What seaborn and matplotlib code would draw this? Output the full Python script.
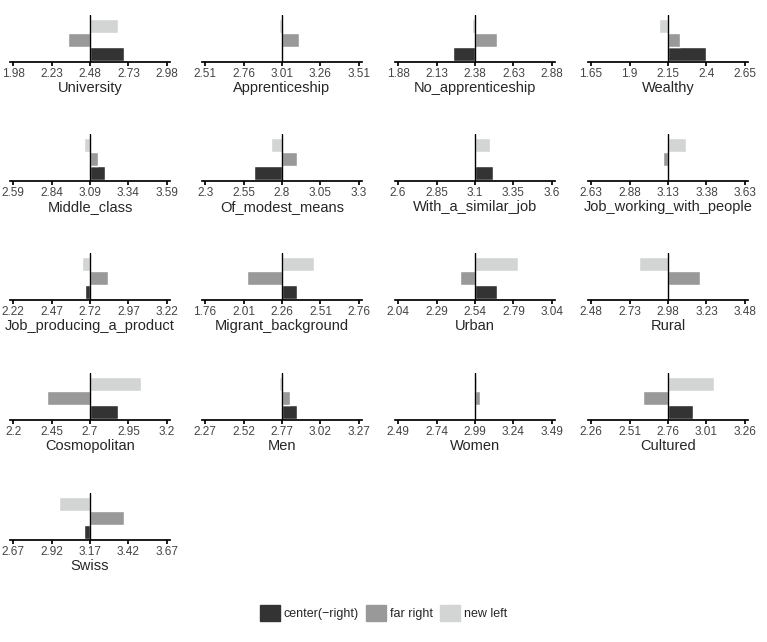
import matplotlib.pyplot as plt
import matplotlib.patches as mpatches
import seaborn as sns

sns.set_theme(style="white")
plt.rcParams['font.family'] = ['Liberation Sans', 'DejaVu Sans']

panels = ["University", "Apprenticeship", "No_apprenticeship", "Wealthy",
          "Middle_class", "Of_modest_means", "With_a_similar_job", "Job_working_with_people",
          "Job_producing_a_product", "Migrant_background", "Urban", "Rural",
          "Cosmopolitan", "Men", "Women", "Cultured", "Swiss"]
centers = [2.48, 3.01, 2.38, 2.15, 3.09, 2.80, 3.10, 3.13, 2.72, 2.26, 2.54, 2.98,
           2.70, 2.77, 2.99, 2.76, 3.17]
center_right = [2.70, 3.01, 2.24, 2.40, 3.19, 2.62, 3.22, 3.13, 2.69, 2.36, 2.68, 2.98,
                2.88, 2.87, 2.99, 2.92, 3.13]
far_right = [2.34, 3.12, 2.52, 2.23, 3.14, 2.90, 3.10, 3.10, 2.84, 2.03, 2.44, 3.19,
             2.42, 2.82, 3.02, 2.60, 3.39]
new_left = [2.66, 2.99, 2.36, 2.09, 3.05, 2.73, 3.20, 3.25, 2.67, 2.47, 2.82, 2.79,
            3.03, 2.75, 3.00, 3.06, 2.97]
groups = ["center(−right)", "far right", "new left"]
colors = ["#333333", "#999999", "#d3d5d5"]

fig = plt.figure(figsize=(7.67, 6.42), dpi=100)
W, H = 767, 642
lefts = [10, 202, 395, 588]
bottoms = [62, 181, 300, 420, 540]
aw, ah = 160, 47

for i, name in enumerate(panels):
    r, c = divmod(i, 4)
    ax = fig.add_axes([lefts[c] / W, 1 - bottoms[r] / H, aw / W, ah / H])
    cen = centers[i]
    vals = [center_right[i], far_right[i], new_left[i]]
    for k, v in enumerate(vals):
        ax.barh(k, v - cen, left=cen, height=1.0, color=colors[k])
    ax.axvline(cen, color="black", lw=1)
    ax.set_ylim(-0.6, 2.75)
    ax.set_xlim(cen - 0.52, cen + 0.52)
    ticks = [cen - 0.5, cen - 0.25, cen, cen + 0.25, cen + 0.5]
    ax.set_xticks(ticks)
    ax.set_xticklabels([f"{t:.2f}".rstrip("0").rstrip(".") for t in ticks], fontsize=8.5, color="#444444")
    ax.set_yticks([])
    for s in ["top", "right", "left"]:
        ax.spines[s].set_visible(False)
    ax.spines["bottom"].set_color("black")
    ax.tick_params(axis="x", length=3, pad=1, bottom=True, color="black")
    ax.set_xlabel(name, fontsize=10.5, labelpad=1)

handles = [mpatches.Patch(color=col, label=g) for col, g in zip(colors, groups)]
fig.legend(handles=handles, loc="center", bbox_to_anchor=(0.5, 1 - 613 / H), ncol=3,
           frameon=False, fontsize=9, handlelength=1.6, handleheight=1.6, columnspacing=0.6,
           handletextpad=0.3)

fig.savefig("out.png", dpi=100)
